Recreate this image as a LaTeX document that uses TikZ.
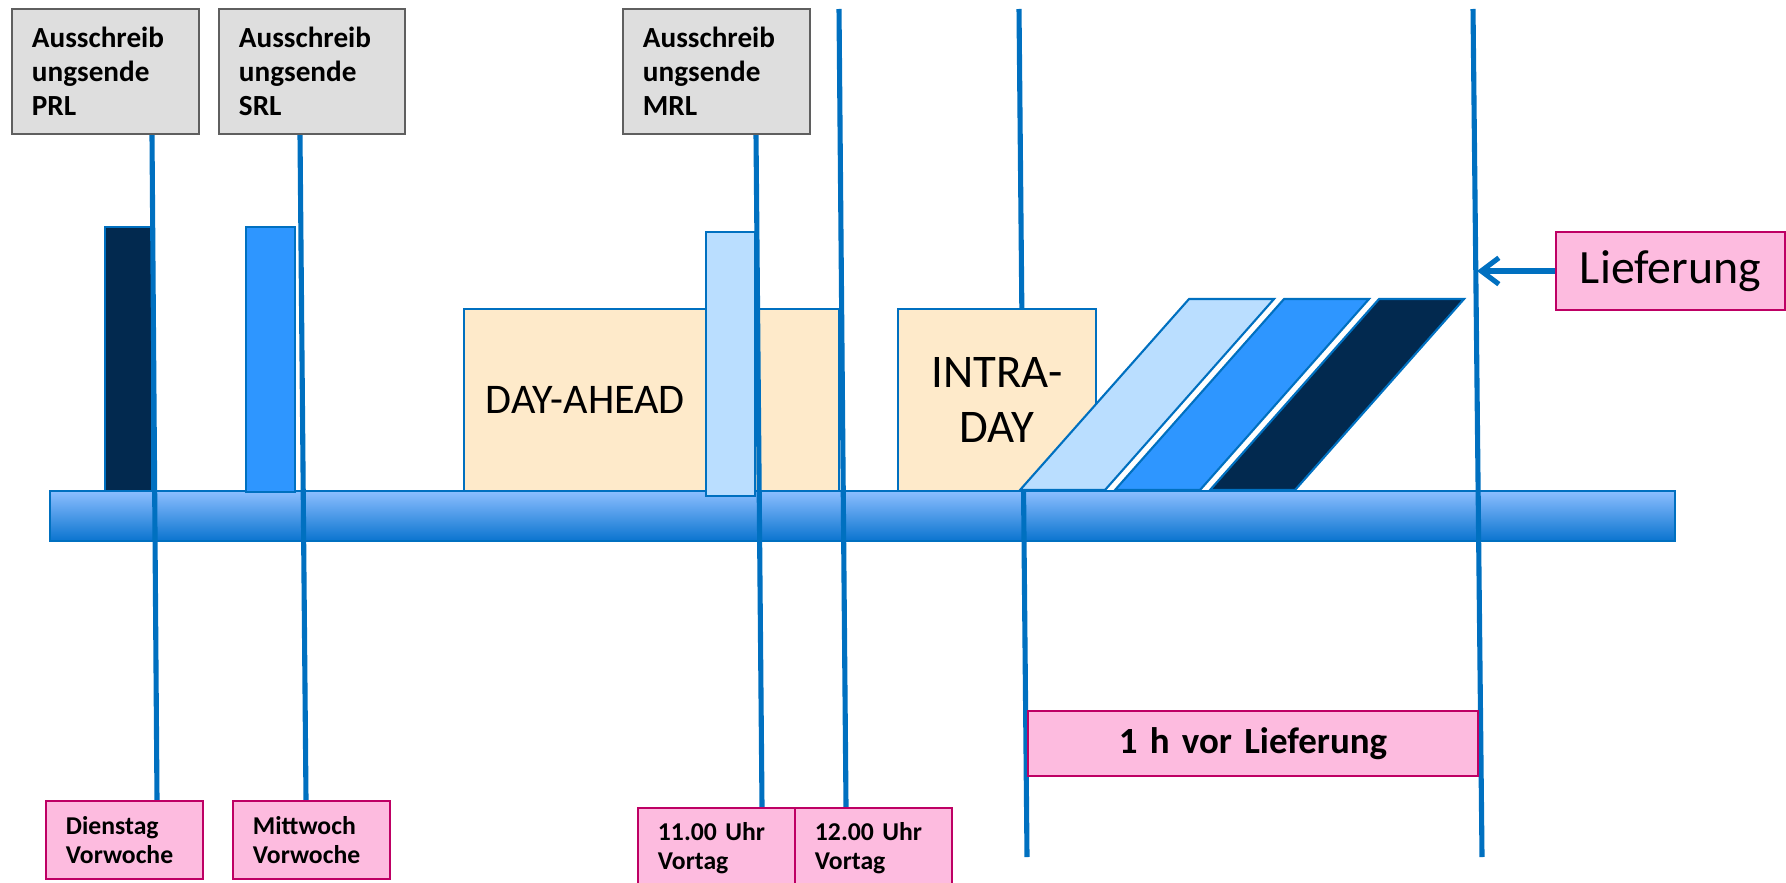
\documentclass[tikz,border=0pt]{standalone}
\usepackage{fontspec}
\setmainfont{Carlito}
\usetikzlibrary{arrows.meta}

\definecolor{linienblau}{RGB}{0,112,192}
\definecolor{dunkel}{RGB}{2,41,79}
\definecolor{mittel}{RGB}{46,150,255}
\definecolor{hell}{RGB}{186,222,255}
\definecolor{creme}{RGB}{254,234,202}
\definecolor{kastengrau}{RGB}{222,222,222}
\definecolor{rahmengrau}{RGB}{95,95,95}
\definecolor{rosa}{RGB}{253,187,223}
\definecolor{rosarand}{RGB}{190,0,100}
\definecolor{strahloben}{RGB}{140,190,255}
\definecolor{strahlunten}{RGB}{10,116,207}

\begin{document}
\begin{tikzpicture}[x=0.01cm, y=-0.01cm, >={Straight Barb[length=5pt,width=7.5pt]},
    linie/.style={draw=linienblau, line width=1.45pt},
    balken/.style={draw=linienblau, line width=0.6pt},
    ausbox/.style={draw=rahmengrau, fill=kastengrau, line width=0.6pt, inner xsep=0.2cm, inner ysep=0pt,
        minimum height=1.25cm, align=left, font=\bfseries\fontsize{8.3}{9.7}\selectfont},
    zeitbox/.style={draw=rosarand, fill=rosa, line width=0.6pt, inner xsep=0.2cm, inner ysep=0pt,
        text width=1.17cm, minimum height=0.78cm, align=left, font=\bfseries\fontsize{7.3}{8.1}\selectfont},
    markt/.style={draw=linienblau, fill=creme, line width=0.6pt, inner ysep=0pt, minimum height=1.82cm}]

    \useasboundingbox (0,0) rectangle (1786,882);

    % Zeitstrahl
    \draw[draw=linienblau, line width=0.5pt, top color=strahloben, bottom color=strahlunten] (50,491) rectangle (1675,541);

    % Linie Intraday (liegt unter dem Kasten)
    \coordinate (intra-o) at (1019,9);
    \coordinate (intra-u) at (1027,857);
    \draw[linie] (intra-o) -- (intra-u);

    % Maerkte
    \node[markt, text width=3.31cm, inner xsep=0.22cm, align=left, font=\fontsize{12}{14}\selectfont] (dayahead) at (651.5,400) {DAY-AHEAD};
    \node[markt, minimum width=1.98cm, inner xsep=0pt, align=center, font=\fontsize{13.3}{15.9}\selectfont] (intraday) at (997,400) {INTRA-\\DAY};

    % Regelleistung (Balken)
    \draw[balken, fill=dunkel] (105,227) rectangle (152,491);
    \draw[balken, fill=mittel] (246,227) rectangle (295,492);
    \draw[balken, fill=hell] (706,232) rectangle (755,496);

    % Regelleistung (schraeg)
    \foreach \dx/\farbe in {0/hell, 95/mittel, 190/dunkel}
        \draw[balken, fill=\farbe] (1020+\dx,490) -- (1189+\dx,299) -- (1274+\dx,299) -- (1105+\dx,490) -- cycle;

    % Ausschreibungsende oben
    \node[ausbox, text width=1.47cm] (prl) at (105.5,71.5) {Ausschreib\\ungsende\\PRL};
    \node[ausbox, text width=1.46cm] (srl) at (312,71.5) {Ausschreib\\ungsende\\SRL};
    \node[ausbox, text width=1.47cm] (mrl) at (716.5,71.5) {Ausschreib\\ungsende\\MRL};

    % Zeitpunkte unten
    \node[zeitbox] (dienstag) at (124.5,840) {Dienstag\\Vorwoche};
    \node[zeitbox] (mittwoch) at (311.5,840) {Mittwoch\\Vorwoche};
    \node[zeitbox, minimum height=0.8cm] (elf) at (716.5,848) {11.00 Uhr\\Vortag};
    \node[zeitbox, minimum height=0.8cm] (zwoelf) at (873.5,848) {12.00 Uhr\\Vortag};

    % Senkrechte Linien
    \draw[linie] (prl.south -| 152,0) -- (dienstag.north -| 157,0);
    \draw[linie] (srl.south -| 300,0) -- (mittwoch.north -| 306,0);
    \draw[linie] (mrl.south -| 756,0) -- (elf.north -| 762,0);
    \coordinate (zwoelf-o) at (839,9);
    \draw[linie] (zwoelf-o) -- (zwoelf.north -| 846,0);
    \coordinate (lief-o) at (1473,9);
    \coordinate (lief-u) at (1482,857);
    \draw[linie] (lief-o) -- (lief-u);

    % Lieferung
    \node[zeitbox, text width=2.29cm, inner xsep=0pt, align=center, font=\fontsize{13.6}{16}\selectfont] (lieferung) at (1670.5,271) {Lieferung};
    \coordinate (lief-pfeil) at (1477,271);
    \draw[linie, ->] (lieferung.west) -- (lief-pfeil);

    \node[zeitbox, text width=4.5cm, inner xsep=0pt, align=center, minimum height=0.65cm,
        font=\bfseries\fontsize{10.5}{12}\selectfont] (vorlauf) at (1253,743.5) {1 h vor Lieferung};

\end{tikzpicture}
\end{document}
